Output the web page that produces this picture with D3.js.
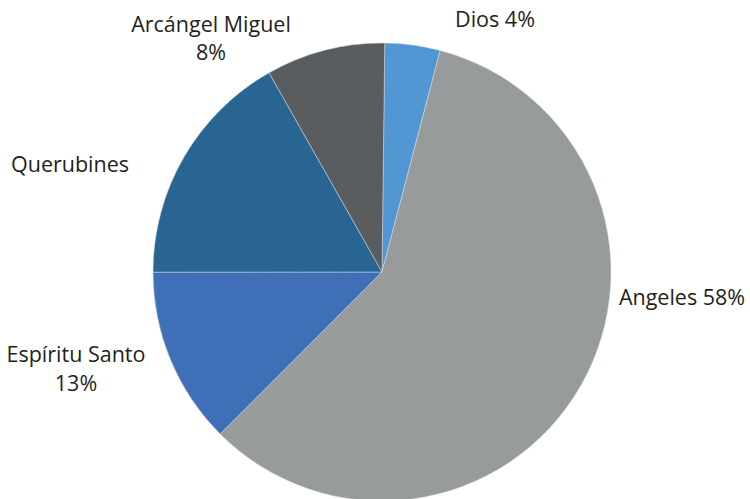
<!DOCTYPE html>
<html><head><meta charset="utf-8">
<script src="https://cdn.jsdelivr.net/npm/d3@7"></script>
<style>html,body{margin:0;padding:0;background:#fff;}svg{display:block;}</style>
</head><body>
<svg id="chart" width="750" height="499"></svg>
<script>
const categories = ["Dios", "Angeles", "Espíritu Santo", "Querubines", "Arcángel Miguel"];
const values = [3.9, 58.4, 12.5, 16.8, 8.4];
const showPercent = [true, true, true, false, true];
const colors = ["#5097d3", "#989b9c", "#3f70b7", "#286592", "#5a5d5f"];

// label layout: x centre, first baseline, two lines or one
const labelLayout = [
  {x: 495, y: 27, twoLine: false},
  {x: 682, y: 305, twoLine: false},
  {x: 76, y: 362, twoLine: true},
  {x: 70, y: 172, twoLine: false},
  {x: 211, y: 31.5, twoLine: true}
];

const svg = d3.select("#chart");
const cx = 382, cy = 272, r = 229;
const data = categories.map((c, i) => ({cat: c, value: values[i], i}));
const off = 0.012;
const pie = d3.pie().sort(null).value(d => d.value).startAngle(off).endAngle(2*Math.PI + off);
const arc = d3.arc().innerRadius(0).outerRadius(r);
const g = svg.append("g").attr("transform", `translate(${cx},${cy})`);
g.selectAll("path").data(pie(data)).join("path")
  .attr("d", arc)
  .attr("fill", d => colors[d.data.i])
  .attr("stroke", "#d8dde3").attr("stroke-width", 0.5);

const fmt = v => Math.round(v) + "%";
const lbl = svg.append("g").attr("font-family", "'Open Sans', sans-serif")
  .attr("font-size", 21.5).attr("fill", "#231f20").attr("text-anchor", "middle");
data.forEach((d, i) => {
  const L = labelLayout[i];
  if (!showPercent[i]) {
    lbl.append("text").attr("x", L.x).attr("y", L.y).text(d.cat);
  } else if (L.twoLine) {
    lbl.append("text").attr("x", L.x).attr("y", L.y).text(d.cat);
    lbl.append("text").attr("x", L.x).attr("y", L.y + 28.5).text(fmt(d.value));
  } else {
    lbl.append("text").attr("x", L.x).attr("y", L.y).text(d.cat + " " + fmt(d.value));
  }
});
</script>
</body></html>
